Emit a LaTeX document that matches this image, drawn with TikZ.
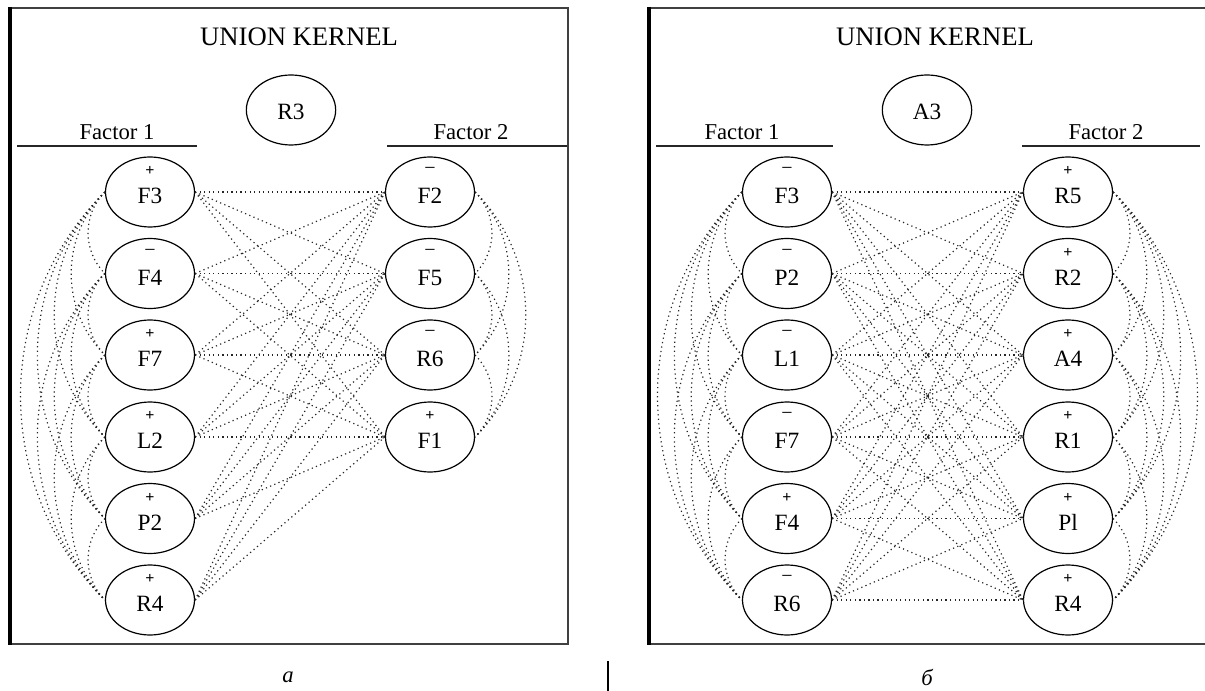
\documentclass[tikz,border=0pt]{standalone}
\usepackage{fontspec}
\setmainfont{Liberation Serif}
\usetikzlibrary{shapes.geometric}

\tikzset{
  factor/.style={draw, ellipse, line width=0.9pt, minimum width=66.75pt, minimum height=52.5pt, inner sep=0pt},
  kernel/.style={draw, ellipse, line width=0.9pt, minimum width=67pt, minimum height=52.5pt, inner sep=0pt},
  flabel/.style={font=\fontsize{17.5}{17.5}\selectfont, inner sep=0pt},
  plussign/.style={font=\fontsize{12}{12}\selectfont\bfseries, inner sep=0pt},
  minussign/.style={font=\fontsize{15}{15}\selectfont, inner sep=0pt},
  heading/.style={font=\fontsize{20}{20}\selectfont, anchor=base, inner sep=0pt},
  factortitle/.style={font=\fontsize{17}{17}\selectfont, anchor=base, inner sep=0pt},
  caption/.style={font=\fontsize{17}{17}\selectfont\itshape, inner sep=0pt},
  rule/.style={line width=1.1pt, black!85},
  link/.style={line width=0.9pt, black!85, dash pattern=on 0.9pt off 2.5pt},
  frame/.style={line width=1.2pt, black!75},
  thickedge/.style={line width=2.3pt, black},
}

% name, x, y, label, sign (+ or -)
\newcommand\factornode[5]{%
  \node[factor] (#1) at (#2,-#3) {};
  \node[flabel] (#1-t) at (#2,{-#3-4}) {#4};
  \ifx+#5
    \node[plussign] (#1-s) at (#2,{-#3+21}) {+};
  \else
    \node[minussign] (#1-s) at (#2,{-#3+21}) {−};
  \fi
}

\begin{document}
\begin{tikzpicture}[x=0.75pt, y=0.75pt]
\useasboundingbox (0,0) rectangle (1205,-691);

% ---------- panel a ----------
\draw[frame] (10,-8) rectangle (568,-644);
\draw[thickedge] (10,-7) -- (10,-645);
\node[heading] (ka) at (299,-46) {UNION KERNEL};
\node[kernel] (ra3) at (291,-110) {};
\node[flabel] (ra3-t) at (291,-112) {R3};
\node[factortitle] (fa1) at (117,-140) {Factor 1};
\node[factortitle] (fa2) at (471,-140) {Factor 2};
\coordinate (la1) at (17,-146);  \coordinate (la2) at (197,-146);
\coordinate (la3) at (387,-146); \coordinate (la4) at (567,-146);
\draw[rule] (la1) -- (la2);
\draw[rule] (la3) -- (la4);

\factornode{aF3}{150}{192}{F3}{+}
\factornode{aF4}{150}{273.5}{F4}{-}
\factornode{aF7}{150}{355}{F7}{+}
\factornode{aL2}{150}{437}{L2}{+}
\factornode{aP2}{150}{518.5}{P2}{+}
\factornode{aR4}{150}{600}{R4}{+}

\factornode{aF2}{430}{192}{F2}{-}
\factornode{aF5}{430}{273.5}{F5}{-}
\factornode{aR6}{430}{355}{R6}{-}
\factornode{aF1}{430}{437}{F1}{+}

% links between the two factors
\foreach \u in {aF3,aF4,aF7,aL2,aP2,aR4}
  \foreach \v in {aF2,aF5,aR6,aF1}
    \draw[link] (\u.east) -- (\v.west);

% links inside factor 1
\foreach \u/\rest in {aF3/{aF4,aF7,aL2,aP2,aR4}, aF4/{aF7,aL2,aP2,aR4}, aF7/{aL2,aP2,aR4}, aL2/{aP2,aR4}, aP2/{aR4}}
  \foreach \v in \rest
    \draw[link] (\u.west) to[bend right=45] (\v.west);

% links inside factor 2
\foreach \u/\rest in {aF2/{aF5,aR6,aF1}, aF5/{aR6,aF1}, aR6/{aF1}}
  \foreach \v in \rest
    \draw[link] (\u.east) to[bend left=45] (\v.east);

\node[caption] (capa) at (288,-677) {a};

% separator
\draw[line width=1.6pt] (608,-661) -- (608,-691);

% ---------- panel b ----------
\draw[frame] (1210,-8) -- (649,-8) -- (649,-644) -- (1210,-644);
\draw[thickedge] (649,-7) -- (649,-645);
\node[heading] (kb) at (935,-46) {UNION KERNEL};
\node[kernel] (ba3) at (927,-110) {};
\node[flabel] (ba3-t) at (927,-112) {A3};
\node[factortitle] (fb1) at (742,-140) {Factor 1};
\node[factortitle] (fb2) at (1106,-140) {Factor 2};
\coordinate (lb1) at (656,-146);  \coordinate (lb2) at (833,-146);
\coordinate (lb3) at (1022,-146); \coordinate (lb4) at (1200,-146);
\draw[rule] (lb1) -- (lb2);
\draw[rule] (lb3) -- (lb4);

\factornode{bF3}{787}{192}{F3}{-}
\factornode{bP2}{787}{273.5}{P2}{-}
\factornode{bL1}{787}{355}{L1}{-}
\factornode{bF7}{787}{437}{F7}{-}
\factornode{bF4}{787}{518.5}{F4}{+}
\factornode{bR6}{787}{600}{R6}{-}

\factornode{bR5}{1068}{192}{R5}{+}
\factornode{bR2}{1068}{273.5}{R2}{+}
\factornode{bA4}{1068}{355}{A4}{+}
\factornode{bR1}{1068}{437}{R1}{+}
\factornode{bPl}{1068}{518.5}{Pl}{+}
\factornode{bR4}{1068}{600}{R4}{+}

\foreach \u in {bF3,bP2,bL1,bF7,bF4,bR6}
  \foreach \v in {bR5,bR2,bA4,bR1,bPl,bR4}
    \draw[link] (\u.east) -- (\v.west);

\foreach \u/\rest in {bF3/{bP2,bL1,bF7,bF4,bR6}, bP2/{bL1,bF7,bF4,bR6}, bL1/{bF7,bF4,bR6}, bF7/{bF4,bR6}, bF4/{bR6}}
  \foreach \v in \rest
    \draw[link] (\u.west) to[bend right=45] (\v.west);

\foreach \u/\rest in {bR5/{bR2,bA4,bR1,bPl,bR4}, bR2/{bA4,bR1,bPl,bR4}, bA4/{bR1,bPl,bR4}, bR1/{bPl,bR4}, bPl/{bR4}}
  \foreach \v in \rest
    \draw[link] (\u.east) to[bend left=45] (\v.east);

\node[caption] (capb) at (927,-677) {б};
\end{tikzpicture}
\end{document}
